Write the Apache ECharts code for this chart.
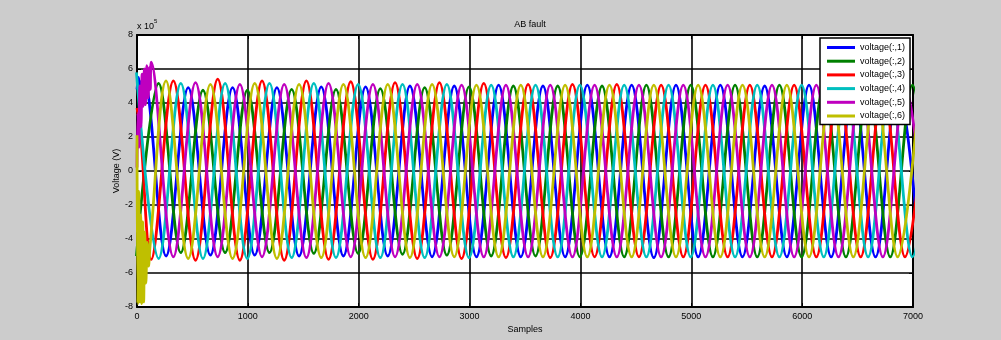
<!DOCTYPE html>
<html>
<head>
<meta charset="utf-8">
<title>AB fault</title>
<script src="https://cdn.jsdelivr.net/npm/echarts@6/dist/echarts.min.js"></script>
<style>
  html, body { margin: 0; padding: 0; background: #ffffff; }
  #chart { width: 1001px; height: 340px; }
</style>
</head>
<body>
<div id="chart"></div>
<script>
// ---- data -------------------------------------------------------------
const titleText = 'AB fault';
const xName = 'Samples';
const yName = 'Voltage (V)';
const seriesNames = ['voltage(:,1)', 'voltage(:,2)', 'voltage(:,3)', 'voltage(:,4)', 'voltage(:,5)', 'voltage(:,6)'];
const seriesColors = ['#0000ff', '#008000', '#ff0000', '#00bfbf', '#bf00bf', '#bfbf00'];
const xTicks = [0, 1000, 2000, 3000, 4000, 5000, 6000, 7000];
const yTicks = [-8, -6, -4, -2, 0, 2, 4, 6, 8];   // in units of 1e5 V

// samples between one extremum and the next (half a cycle, 400-sample cycle)
const halfCycle = 200;

// fault transient at the start of each trace: [sample, value x1e5]
const head1 = [[0, 4.8], [14, 5.5], [28, 4.6], [44, 5.3]];
const head2 = [];
const head3 = [[0, 3.7], [30, 2.4]];
const head4 = [];
const head5 = [[0, 0.2], [8, 3.4], [16, 1.4], [26, 5.0], [36, 2.6], [46, 5.7], [56, 3.8],
               [66, 6.0], [76, 3.9], [88, 6.2], [100, 4.3], [112, 6.1], [120, 4.8]];
const head6 = [[0, 2.1], [7, -7.8], [16, -1.2], [24, -7.7], [33, -2.6], [42, -7.8], [52, -3.0],
               [60, -7.7], [70, -3.6], [80, -6.6], [92, -4.2], [104, -5.6], [118, -4.4]];

// sample of the first steady-state extremum of each trace
const start1 = 62, start2 = -5, start3 = 128, start4 = -5, start5 = 128, start6 = 262;

// successive peak / trough values (x1e5 V), one every halfCycle samples
const ext1 = [5.4, -5.0, 4.9, -4.95, 4.9, -4.95, 4.9, -5.0, 4.95, -5.0, 4.95, -5.0, 5.0, -5.05, 5.0,
  -5.05, 5.05, -5.05, 5.0, -5.05, 5.05, -5.05, 5.05, -5.1, 5.05, -5.05, 5.05, -5.05, 5.0, -5.05,
  5.05, -5.05, 5.05, -5.05, 5.05, -5.05];
const ext2 = [-5.0, 5.15, -4.8, 4.75, -4.8, 4.75, -4.8, 4.8, -4.85, 4.8, -4.85, 4.85, -4.9, 4.9,
  -4.95, 4.95, -5.0, 5.0, -5.0, 5.0, -5.05, 5.0, -5.05, 5.05, -5.05, 5.05, -5.05, 5.05, -5.05,
  5.05, -5.05, 5.05, -5.05, 5.05, -5.05, 5.05, -5.05];
const ext3 = [-5.2, 5.3, -5.25, 5.4, -5.25, 5.3, -5.25, 5.3, -5.2, 5.25, -5.2, 5.2, -5.15, 5.2,
  -5.15, 5.15, -5.1, 5.1, -5.1, 5.1, -5.05, 5.1, -5.05, 5.05, -5.05, 5.05, -5.05, 5.05, -5.05,
  5.05, -5.05, 5.05, -5.05, 5.05, -5.05, 5.05];
const ext4 = [5.8, -5.15, 5.15, -5.15, 5.15, -5.15, 5.15, -5.1, 5.15, -5.1, 5.1, -5.1, 5.1, -5.1,
  5.1, -5.1, 5.05, -5.05, 5.05, -5.05, 5.05, -5.05, 5.05, -5.05, 5.05, -5.05, 5.05, -5.05, 5.05,
  -5.05, 5.05, -5.05, 5.05, -5.05, 5.05, -5.05, 5.05];
const ext5 = [6.4, -5.05, 5.2, -5.05, 5.1, -5.05, 5.1, -5.1, 5.15, -5.05, 5.1, -5.05, 5.1, -5.05,
  5.05, -5.05, 5.05, -5.05, 5.05, -5.05, 5.05, -5.05, 5.05, -5.05, 5.05, -5.05, 5.05, -5.05,
  5.05, -5.05, 5.05, -5.05, 5.05, -5.05, 5.05, -5.05];
const ext6 = [5.3, -5.15, 5.1, -5.15, 5.15, -5.15, 5.1, -5.1, 5.1, -5.1, 5.1, -5.1, 5.1, -5.05,
  5.05, -5.05, 5.05, -5.05, 5.05, -5.05, 5.05, -5.05, 5.05, -5.05, 5.05, -5.05, 5.05, -5.05,
  5.05, -5.05, 5.05, -5.05, 5.05, -5.05, 5.05];

// ---- build series ----------------------------------------------------
const heads = [head1, head2, head3, head4, head5, head6];
const starts = [start1, start2, start3, start4, start5, start6];
const extremes = [ext1, ext2, ext3, ext4, ext5, ext6];

function traceData(i) {
  const pts = heads[i].map(p => [p[0], p[1]]);
  extremes[i].forEach((v, k) => pts.push([starts[i] + k * halfCycle, v]));
  return pts;
}

const FONT = "'Liberation Sans', Arial, Helvetica, sans-serif";
const plainNumber = v => String(v);

const series = seriesNames.map((name, i) => ({
  name: name,
  type: 'line',
  data: traceData(i),
  showSymbol: false,
  symbol: 'none',
  smooth: 0.36,
  clip: true,
  animation: false,
  lineStyle: { color: seriesColors[i], width: 2.8 },
  itemStyle: { color: seriesColors[i] },
  emphasis: { disabled: true }
}));

const chart = echarts.init(document.getElementById('chart'), null, { renderer: 'canvas' });

chart.setOption({
  backgroundColor: '#cccccc',
  animation: false,
  textStyle: { fontFamily: FONT },
  title: {
    text: titleText,
    left: 525, top: 15,
    textAlign: 'center',
    textStyle: { fontFamily: FONT, fontSize: 9, fontWeight: 'normal', color: '#000' }
  },
  grid: {
    left: 137, top: 35, width: 776, height: 272,
    show: true, backgroundColor: '#ffffff', borderColor: '#000', borderWidth: 0
  },
  legend: {
    orient: 'vertical',
    left: 820, top: 38,
    padding: [4, 5, 3, 7],
    itemGap: 2.7,
    itemWidth: 28, itemHeight: 3,
    icon: 'rect',
    backgroundColor: '#ffffff',
    borderColor: '#000',
    borderWidth: 1.5,
    borderRadius: 0,
    textStyle: { fontFamily: FONT, fontSize: 9, color: '#000', lineHeight: 11 },
    data: seriesNames
  },
  xAxis: [{
    type: 'value',
    min: xTicks[0], max: xTicks[xTicks.length - 1], interval: xTicks[1] - xTicks[0],
    name: xName, nameLocation: 'middle', nameGap: 18, nameMoveOverlap: false,
    nameTextStyle: { fontFamily: FONT, fontSize: 9, color: '#000' },
    axisLine: { show: true, onZero: false, lineStyle: { color: '#000', width: 2 } },
    axisTick: { show: true, inside: true, length: 4, lineStyle: { color: '#000' } },
    axisLabel: { fontFamily: FONT, fontSize: 9, color: '#000', margin: 5, formatter: plainNumber },
    splitLine: { show: true, lineStyle: { color: '#000', width: 1.6 } }
  }, {
    type: 'value', position: 'top',
    min: xTicks[0], max: xTicks[xTicks.length - 1], interval: xTicks[1] - xTicks[0],
    axisLine: { show: true, onZero: false, lineStyle: { color: '#000', width: 2 } },
    axisTick: { show: true, inside: true, length: 4, lineStyle: { color: '#000' } },
    axisLabel: { show: false },
    splitLine: { show: false }
  }],
  yAxis: [{
    type: 'value',
    min: yTicks[0], max: yTicks[yTicks.length - 1], interval: yTicks[1] - yTicks[0],
    name: yName, nameLocation: 'middle', nameGap: 16, nameRotate: 90, nameMoveOverlap: false,
    nameTextStyle: { fontFamily: FONT, fontSize: 9, color: '#000' },
    axisLine: { show: true, onZero: false, lineStyle: { color: '#000', width: 2 } },
    axisTick: { show: true, inside: true, length: 4, lineStyle: { color: '#000' } },
    axisLabel: { fontFamily: FONT, fontSize: 9, color: '#000', margin: 4, formatter: plainNumber },
    splitLine: { show: true, lineStyle: { color: '#000', width: 1.6 } }
  }, {
    type: 'value', position: 'right',
    min: yTicks[0], max: yTicks[yTicks.length - 1], interval: yTicks[1] - yTicks[0],
    axisLine: { show: true, onZero: false, lineStyle: { color: '#000', width: 2 } },
    axisTick: { show: true, inside: true, length: 4, lineStyle: { color: '#000' } },
    axisLabel: { show: false },
    splitLine: { show: false }
  }],
  graphic: [
    { type: 'text', left: 137, top: 22, silent: true,
      style: { text: 'x 10', font: '9px ' + FONT, fill: '#000' } },
    { type: 'text', left: 154, top: 18, silent: true,
      style: { text: '5', font: '6px ' + FONT, fill: '#000' } }
  ],
  series: series
});
</script>
</body>
</html>
